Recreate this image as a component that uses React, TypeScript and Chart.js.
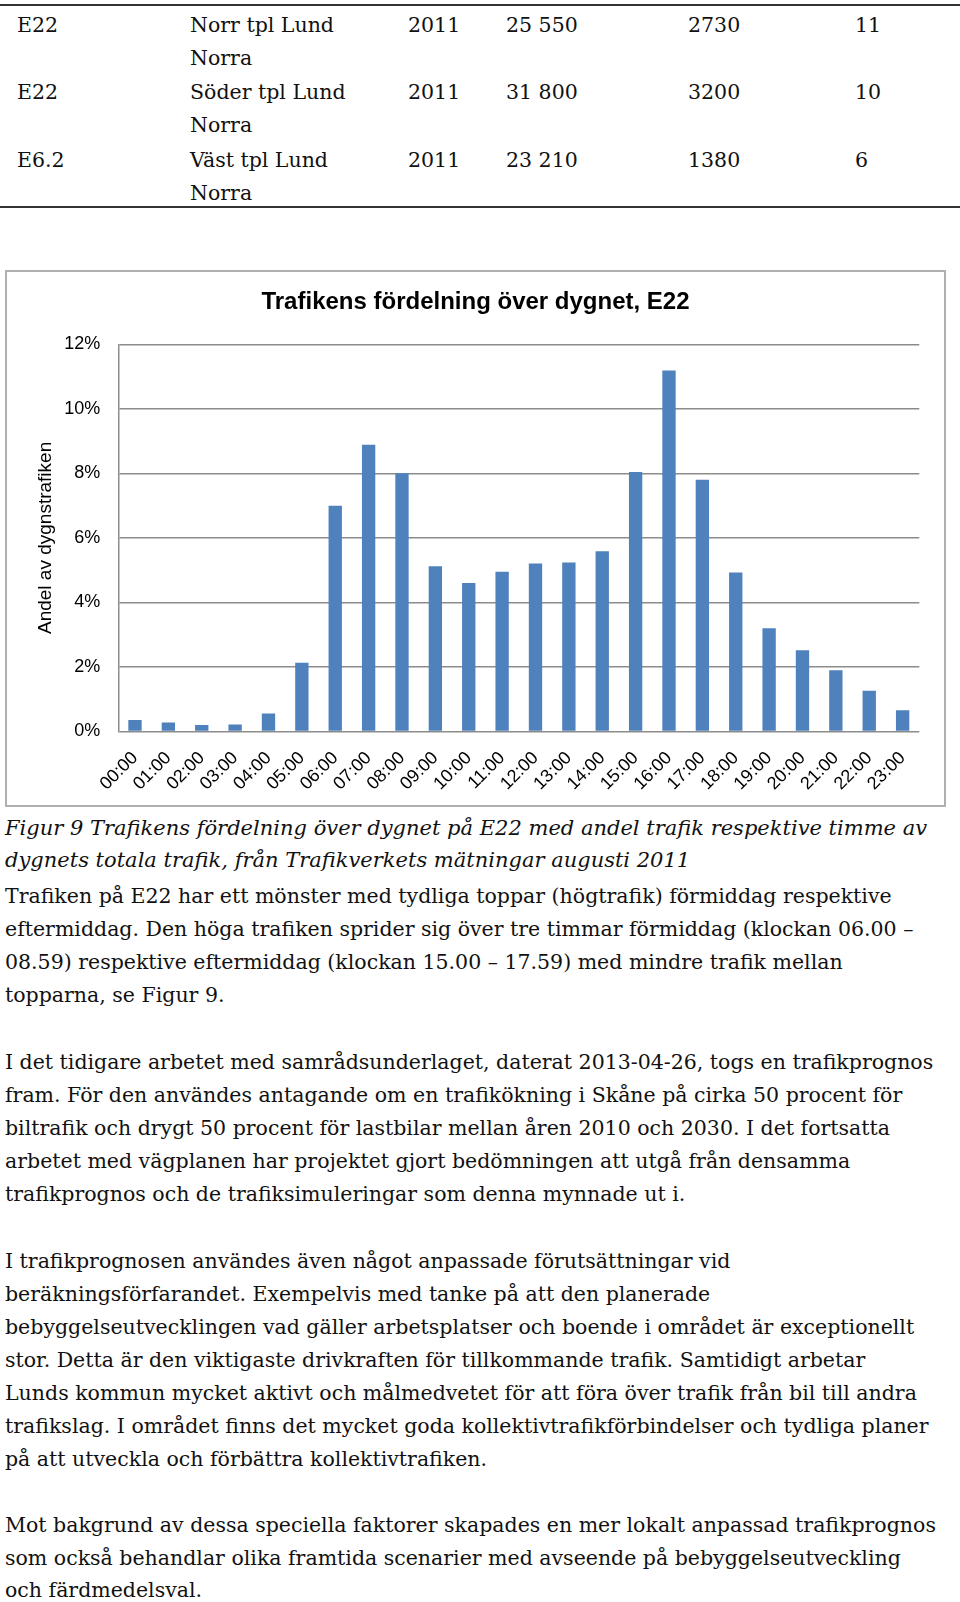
import React, { useEffect, useRef } from "react";
import { Chart, registerables } from "chart.js";

Chart.register(...registerables);

// ---- chart data ----
const hours = [
  "00:00", "01:00", "02:00", "03:00", "04:00", "05:00", "06:00", "07:00",
  "08:00", "09:00", "10:00", "11:00", "12:00", "13:00", "14:00", "15:00",
  "16:00", "17:00", "18:00", "19:00", "20:00", "21:00", "22:00", "23:00",
];
const sharePercent = [
  0.36, 0.28, 0.2, 0.22, 0.56, 2.13, 7.0, 8.89, 8.0, 5.12, 4.6, 4.95,
  5.21, 5.24, 5.59, 8.04, 11.19, 7.8, 4.93, 3.2, 2.52, 1.9, 1.26, 0.66,
];
const yTickValues = [0, 2, 4, 6, 8, 10, 12];
const chartTitle = "Trafikens fördelning över dygnet, E22";
const yAxisTitle = "Andel av dygnstrafiken";

// ---- table data ----
const roads = ["E22", "E22", "E6.2"];
const places = [
  ["Norr tpl Lund", "Norra"],
  ["Söder tpl Lund", "Norra"],
  ["Väst tpl Lund", "Norra"],
];
const years = ["2011", "2011", "2011"];
const totals = ["25 550", "31 800", "23 210"];
const heavy = ["2730", "3200", "1380"];
const heavyShare = ["11", "10", "6"];

// ---- text ----
const captionLines = [
  "Figur 9 Trafikens fördelning över dygnet på E22 med andel trafik respektive timme av",
  "dygnets totala trafik, från Trafikverkets mätningar augusti 2011",
];
const para1 = [
  "Trafiken på E22 har ett mönster med tydliga toppar (högtrafik) förmiddag respektive",
  "eftermiddag. Den höga trafiken sprider sig över tre timmar förmiddag (klockan 06.00 –",
  "08.59) respektive eftermiddag (klockan 15.00 – 17.59) med mindre trafik mellan",
  "topparna, se Figur 9.",
];
const para2 = [
  "I det tidigare arbetet med samrådsunderlaget, daterat 2013-04-26, togs en trafikprognos",
  "fram. För den användes antagande om en trafikökning i Skåne på cirka 50 procent för",
  "biltrafik och drygt 50 procent för lastbilar mellan åren 2010 och 2030. I det fortsatta",
  "arbetet med vägplanen har projektet gjort bedömningen att utgå från densamma",
  "trafikprognos och de trafiksimuleringar som denna mynnade ut i.",
];
const para3 = [
  "I trafikprognosen användes även något anpassade förutsättningar vid",
  "beräkningsförfarandet. Exempelvis med tanke på att den planerade",
  "bebyggelseutvecklingen vad gäller arbetsplatser och boende i området är exceptionellt",
  "stor. Detta är den viktigaste drivkraften för tillkommande trafik. Samtidigt arbetar",
  "Lunds kommun mycket aktivt och målmedvetet för att föra över trafik från bil till andra",
  "trafikslag. I området finns det mycket goda kollektivtrafikförbindelser och tydliga planer",
  "på att utveckla och förbättra kollektivtrafiken.",
];
const para4 = [
  "Mot bakgrund av dessa speciella faktorer skapades en mer lokalt anpassad trafikprognos",
  "som också behandlar olika framtida scenarier med avseende på bebyggelseutveckling",
  "och färdmedelsval.",
];

const SERIF = "'DejaVu Serif', 'Liberation Serif', serif";
const SANS = "'Liberation Sans', Arial, sans-serif";

function TrafficChart() {
  const ref = useRef<HTMLCanvasElement | null>(null);
  useEffect(() => {
    if (!ref.current) return;
    const chart = new Chart(ref.current, {
      type: "bar",
      data: {
        labels: hours,
        datasets: [
          {
            data: sharePercent,
            backgroundColor: "#4f81bd",
            barPercentage: 0.4,
            categoryPercentage: 1,
          },
        ],
      },
      options: {
        animation: false,
        responsive: false,
        layout: { padding: { left: 24.7, right: 24.7, top: 0, bottom: 0 } },
        plugins: {
          legend: { display: false },
          tooltip: { enabled: false },
          title: {
            display: true,
            text: chartTitle,
            color: "#000",
            font: { family: SANS, size: 24, weight: "bold" },
            padding: { top: 15.6, bottom: 27.9 },
          },
        },
        scales: {
          x: {
            grid: { display: false },
            border: { display: false },
            ticks: {
              color: "#000",
              font: { family: SANS, size: 18 },
              maxRotation: 45,
              minRotation: 45,
              autoSkip: false,
              padding: 8,
            },
            afterFit: (s: any) => {
              s.height = 73.5;
            },
          },
          y: {
            min: 0,
            max: 12,
            afterBuildTicks: (axis: any) => {
              axis.ticks = yTickValues.map((v) => ({ value: v }));
            },
            ticks: {
              color: "#000",
              font: { family: SANS, size: 18 },
              padding: 18,
              callback: (v: any) => v + "%",
            },
            grid: { color: "#8c8c8c", lineWidth: 1.5, drawTicks: false },
            border: { display: true, color: "#8c8c8c", width: 1.5 },
            title: {
              display: true,
              text: yAxisTitle,
              color: "#000",
              font: { family: SANS, size: 19 },
              padding: { top: 3, bottom: 0 },
            },
            afterFit: (s: any) => {
              s.width = 86.6;
            },
          },
        },
      },
    } as any);
    return () => chart.destroy();
  }, []);
  return (
    <canvas
      ref={ref}
      width={937}
      height={533}
      style={{ display: "block", width: 937, height: 533 }}
    />
  );
}

function Lines({
  lines,
  top,
  lh,
  italic,
}: {
  lines: string[];
  top: number;
  lh: number;
  italic?: boolean;
}) {
  return (
    <div
      style={{
        position: "absolute",
        left: 5,
        top,
        fontFamily: SERIF,
        fontSize: italic ? 21 : 20.5,
        fontStyle: italic ? "italic" : "normal",
        lineHeight: lh + "px",
        color: "#111",
        whiteSpace: "nowrap",
      }}
    >
      {lines.map((l, i) => (
        <div key={i}>{l}</div>
      ))}
    </div>
  );
}

export default function App() {
  const colX = [17, 190, 408, 506, 688, 855];
  const cell = (text: string, x: number, y: number, key: string) => (
    <div
      key={key}
      style={{
        position: "absolute",
        left: x,
        top: y,
        fontFamily: SERIF,
        fontSize: 20.5,
        lineHeight: "32.7px",
        color: "#111",
        whiteSpace: "nowrap",
      }}
    >
      {text}
    </div>
  );
  const rows: React.ReactNode[] = [];
  roads.forEach((r, i) => {
    const y = 9 + i * 67.4;
    rows.push(cell(r, colX[0], y, "r" + i));
    rows.push(cell(places[i][0], colX[1], y, "p" + i));
    rows.push(cell(places[i][1], colX[1], y + 32.7, "q" + i));
    rows.push(cell(years[i], colX[2], y, "y" + i));
    rows.push(cell(totals[i], colX[3], y, "t" + i));
    rows.push(cell(heavy[i], colX[4], y, "h" + i));
    rows.push(cell(heavyShare[i], colX[5], y, "s" + i));
  });
  return (
    <div
      style={{
        position: "absolute",
        left: 0,
        top: 0,
        width: 960,
        height: 1602,
        overflow: "hidden",
        background: "#fff",
      }}
    >
      <div style={{ position: "absolute", left: 0, top: 4, width: 960, height: 2, background: "#333" }} />
      {rows}
      <div style={{ position: "absolute", left: 0, top: 206, width: 960, height: 2, background: "#333" }} />
      <div
        style={{
          position: "absolute",
          left: 5,
          top: 270,
          width: 937,
          height: 533,
          border: "2px solid #b0b0b0",
        }}
      >
        <TrafficChart />
      </div>
      <Lines lines={captionLines} top={812} lh={32} italic />
      <Lines lines={para1} top={880} lh={33} />
      <Lines lines={para2} top={1045.5} lh={33.2} />
      <Lines lines={para3} top={1244.5} lh={33.1} />
      <Lines lines={para4} top={1509} lh={32.6} />
    </div>
  );
}
